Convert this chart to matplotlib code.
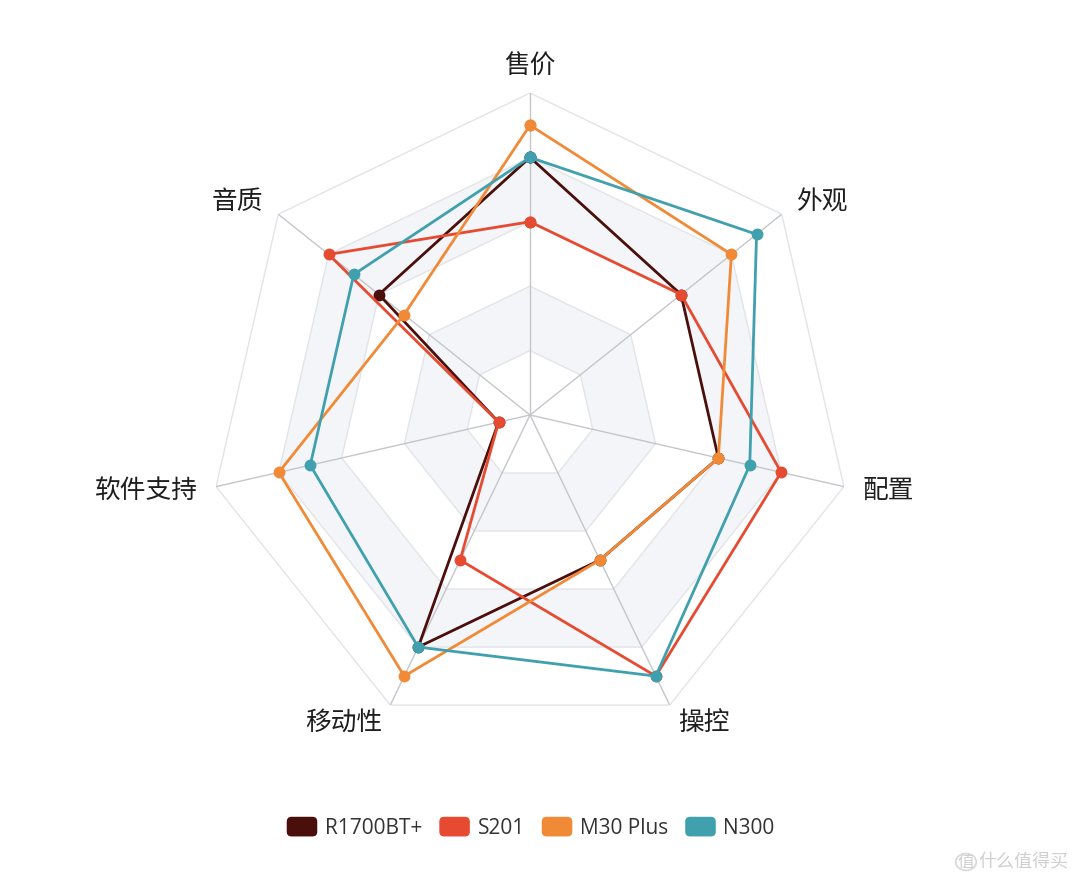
import numpy as np
import matplotlib
matplotlib.use("Agg")
import matplotlib.pyplot as plt
from matplotlib.patches import FancyBboxPatch, Patch, Circle
from matplotlib.legend_handler import HandlerPatch

plt.rcParams['font.family'] = ['Noto Sans CJK SC', 'DejaVu Sans']

categories = ["售价", "外观", "配置", "操控", "移动性", "软件支持", "音质"]
series_names = ["R1700BT+", "S201", "M30 Plus", "N300"]
r1700 = [8, 6, 6, 5, 8, 1, 6]
s201 = [6, 6, 8, 9, 5, 1, 8]
m30 = [9, 8, 6, 5, 9, 8, 5]
n300 = [8, 9, 7, 9, 8, 7, 7]
series_values = [r1700, s201, m30, n300]
colors = ["#4b0f0b", "#e64a30", "#f18a36", "#40a0ad"]
max_value = 10
levels = [2, 4, 6, 8, 10]

W, H = 1080, 886
fig = plt.figure(figsize=(W / 100, H / 100), dpi=100)
cx, cy, R = 530, 415, 322
ax = fig.add_axes([(cx - R) / W, (H - cy - R) / H, 2 * R / W, 2 * R / H], projection='polar')
ax.set_theta_offset(np.pi / 2)
ax.set_theta_direction(-1)
ax.set_ylim(0, max_value)
ax.set_axis_off()

n = len(categories)
theta = np.arange(n) * 2 * np.pi / n
theta_c = np.append(theta, theta[0])

# split areas (alternating, outer first)
area_colors = {10: "#ffffff", 8: "#f3f5f9", 6: "#ffffff", 4: "#f3f5f9", 2: "#ffffff"}
for lv in sorted(levels, reverse=True):
    ax.fill(theta_c, [lv] * (n + 1), color=area_colors[lv], zorder=0, lw=0)
# ring lines
for lv in levels:
    ax.plot(theta_c, [lv] * (n + 1), color="#e2e4e8", lw=1.0, zorder=1)
# spokes
for t in theta:
    ax.plot([t, t], [0, max_value], color="#c4c6ca", lw=1.0, zorder=1)

# series
for name, vals, col in zip(series_names, series_values, colors):
    v = list(vals) + [vals[0]]
    ax.plot(theta_c, v, color=col, lw=2.0, zorder=3, label=name,
            marker='o', markersize=7.5, markerfacecolor=col, markeredgecolor=col)

# labels
for t, lab in zip(theta, categories):
    s = np.sin(t)
    c = np.cos(t)
    if abs(s) < 0.01:
        ha = 'center'
        va = 'bottom' if c > 0 else 'top'
        rr = max_value * 1.04
    else:
        ha = 'left' if s > 0 else 'right'
        va = 'center'
        rr = max_value * 1.06
    ax.text(t, rr, lab, ha=ha, va=va, fontsize=18.5, color="#1e1e1e",
            family=['Noto Sans CJK SC', 'DejaVu Sans'])


class RoundHandler(HandlerPatch):
    def create_artists(self, legend, orig_handle, xdescent, ydescent, width, height, fontsize, trans):
        p = FancyBboxPatch((-xdescent + 1.0, -ydescent - 1.5), width - 2, height + 2.5,
                           boxstyle="round,pad=0,rounding_size=3.5",
                           facecolor=orig_handle.get_facecolor(), edgecolor='none', transform=trans)
        return [p]


handles = [Patch(facecolor=c, label=nm) for nm, c in zip(series_names, colors)]
leg = fig.legend(handles=handles, loc='center', bbox_to_anchor=(530 / W, 1 - 828 / H), ncol=4,
                 frameon=False, handler_map={Patch: RoundHandler()},
                 handlelength=1.6, handleheight=0.82, handletextpad=0.3, columnspacing=0.75,
                 prop={'family': ['Open Sans', 'DejaVu Sans'], 'size': 15})
for t in leg.get_texts():
    t.set_color("#333333")

# watermark
fig.text(1068 / W, 1 - 862 / H, "什么值得买", ha='right', va='center', fontsize=13, color="#d0d0d0")
fig.text(966 / W, 1 - 862 / H, "值", ha='center', va='center', fontsize=12, color="#d0d0d0")
fig.patches.append(Circle((966 / W, 1 - 862 / H), 0.0095, transform=fig.transFigure,
                          facecolor='none', edgecolor="#d8d8d8", lw=1.2))

fig.savefig("out.png", dpi=100, facecolor='white')
